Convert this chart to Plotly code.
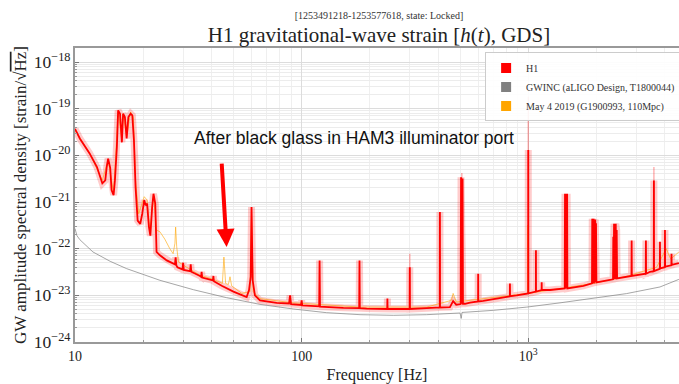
import plotly.graph_objects as go

# ---------------- data ----------------
h1_freq = [10, 10.5, 11.6, 12.5, 13.2, 13.6, 13.8, 14.0, 14.3, 14.5, 14.8, 15.0, 15.3, 15.5,
           15.8, 16.1, 16.3, 16.6, 16.9, 17.2, 17.6, 17.9, 18.2, 18.5, 18.9, 19.4, 19.8, 20.2,
           20.5, 20.8, 21.2, 21.5, 21.9, 22.2, 22.6, 22.9, 23.7, 25.4, 27.6, 27.8, 28.0, 28.3,
           29.8, 30.0, 30.2, 32.2, 32.4, 32.6, 35.6, 36.0, 36.2, 36.4, 40.6, 40.8, 41.0, 44.4,
           50.0, 54.4, 57.2, 58.6, 59.6, 60.1, 60.8, 62.2,
           65.5, 77.6, 88.0, 88.9, 89.8, 99.4, 100, 100.6, 119.5, 120, 120.5, 152.8, 179.4, 180,
           180.6, 193.6, 238.5, 239, 239.5, 299.5, 300, 300.5, 356, 407, 407.5, 408, 451, 466,
           481, 503, 505, 507, 509, 511, 513, 515, 526, 553, 600.5, 601, 601.5, 633, 829, 830,
           831, 889, 999, 1000, 1001, 1080, 1081, 1082, 1145, 1146, 1147, 1247, 1380,
           1448, 1452, 1456, 1460, 1464, 1468, 1472, 1476, 1480, 1484, 1488, 1750,
           1910, 1915, 1920, 1928, 1935, 1942, 1950, 1958, 1966, 1974, 1982, 1990, 1998,
           2365, 2372, 2380, 2390, 2400, 2410, 2420, 2432, 2444, 2455, 2465,
           2853, 2858, 2863, 3298, 3304, 3310, 3444, 3578, 3583, 3588, 3700, 3806, 3811, 3816,
           4003, 4009, 4015, 4278, 4285, 4292, 4620]
h1_asd = [3.7e-20, 2.3e-20, 1.1e-20, 5.6e-21, 2.5e-21, 2.9e-21, 5.6e-21, 8.5e-21, 5.4e-21, 1.8e-21,
          1.4e-21, 2.9e-21, 1.5e-20, 9.2e-20, 7.8e-20, 1.9e-20, 7.8e-20, 6.6e-20, 2.3e-20, 6.6e-20,
          7.8e-20, 7.2e-20, 2.1e-20, 2.1e-21, 4.0e-22, 3.4e-22, 5.6e-22, 1.1e-21, 8.5e-22, 9.2e-22,
          2.9e-22, 1.9e-22, 7.8e-22, 1.5e-21, 9.2e-22, 8.5e-23, 7.2e-23, 5.6e-23, 4.6e-23, 6.5e-23,
          4.4e-23, 4.0e-23, 3.6e-23, 5.0e-23, 3.5e-23, 3.3e-23, 4.6e-23, 3.2e-23, 2.6e-23, 2.5e-23,
          3.2e-23, 2.4e-23, 2.1e-23, 2.6e-23, 2.0e-23, 1.6e-23,
          1.2e-23, 1.0e-23, 9.2e-24, 1.3e-23, 2.5e-23, 7.8e-22, 2.1e-23, 1.0e-23,
          7.8e-24, 6.9e-24, 6.7e-24, 1.0e-23, 6.5e-24, 6.2e-24, 7.8e-24, 6.1e-24, 5.8e-24, 5.6e-23,
          5.7e-24, 5.4e-24, 5.3e-24, 5.6e-23, 5.3e-24, 5.2e-24, 5.1e-24, 8.5e-24, 5.1e-24, 5.1e-24,
          4.0e-23, 5.1e-24, 5.3e-24, 5.5e-24, 6.1e-22, 5.5e-24, 5.6e-24, 7.5e-24, 6.3e-24, 6.5e-24,
          3.4e-21, 6.6e-24, 2.9e-21, 6.6e-24, 3.2e-21, 6.6e-24, 6.6e-24, 7.0e-24, 7.4e-24, 2.9e-23,
          7.4e-24, 7.6e-24, 9.5e-24, 1.8e-23, 9.6e-24, 1.0e-23, 1.1e-23, 1.3e-20, 1.1e-23, 1.2e-23,
          9.2e-23, 1.2e-23, 1.3e-23, 1.9e-23, 1.3e-23, 1.3e-23, 1.4e-23,
          1.4e-23, 1.5e-21, 1.4e-23, 1.4e-21, 1.4e-23, 1.5e-21, 1.4e-23, 1.3e-21, 1.4e-23, 1.5e-21,
          1.4e-23, 1.6e-23,
          1.8e-23, 4.4e-22, 1.8e-23, 4.0e-22, 1.8e-23, 4.4e-22, 1.8e-23, 3.8e-22, 1.9e-23, 4.2e-22,
          1.9e-23, 3.5e-22, 1.9e-23,
          2.2e-23, 1.8e-22, 2.2e-23, 3.4e-22, 2.2e-23, 2.9e-22, 2.2e-23, 3.4e-22, 2.2e-23, 2.5e-22,
          2.3e-23,
          2.6e-23, 1.5e-22, 2.6e-23, 2.9e-23, 1.5e-22, 2.9e-23, 3.2e-23, 3.3e-23, 2.9e-21, 3.3e-23,
          3.5e-23, 3.7e-23, 1.4e-22, 3.8e-23, 4.0e-23, 2.5e-22, 4.1e-23, 4.4e-23, 7.8e-23, 4.5e-23,
          4.9e-23]

# extra reach of the H1 percentile band above the median at a few lines
h1_band_freq = [300, 300, None, 1000, 1000, None, 3583, 3583, None, 509, 509]
h1_band_asd = [5.1e-24, 7.8e-23, None, 1.1e-23, 1.8e-19, None, 3.4e-23, 5.6e-21, None, 6.6e-24, 4.2e-21]

gwinc_freq = [10, 10.2, 10.5, 11.3, 12.0, 14.3, 16.9, 23.7, 33.3, 46.7, 65.5, 91.8, 128.8, 181,
              254, 356, 500, 506, 508, 510, 702, 985, 1380, 1930, 2715, 3810, 4620]
gwinc_asd = [2.7e-22, 1.9e-22, 1.56e-22, 1.09e-22, 8.5e-23, 5.35e-23, 3.73e-23, 2.1e-23, 1.32e-23,
             8.9e-24, 6.4e-24, 5.1e-24, 4.25e-24, 3.85e-24, 3.73e-24, 3.85e-24, 4.18e-24, 3.2e-24,
             4.2e-24, 4.3e-24, 4.77e-24, 5.6e-24, 6.9e-24, 8.5e-24, 1.09e-23, 1.51e-23, 2.2e-23]

may_freq = [10, 11.6, 13.2, 14.0, 14.8, 15.5, 16.1, 16.3, 16.9, 17.6, 18.1, 18.5, 19.1, 20.2, 20.8,
            21.4, 22.2, 22.9, 23.7, 24.9, 26.2, 27.1, 27.6, 27.8, 28.1, 28.6, 31.1, 35.6, 40.8,
            44.7, 45.4, 46.2, 47.5, 48.3, 49.1, 54.4, 59.2, 60.1, 61.1, 65.5, 91.6, 181, 356, 458,
            466, 481, 992, 995, 1000, 1933, 2715, 3683, 4060, 4250, 4620]
may_asd = [3.4e-20, 1.1e-20, 2.9e-21, 7.8e-21, 1.6e-21, 8.5e-20, 2.1e-20, 7.8e-20, 2.5e-20, 8.5e-20,
           6.6e-20, 2.9e-21, 5.6e-22, 1.3e-21, 1.1e-21, 2.3e-22, 1.4e-21, 2.5e-22, 2.3e-22, 1.6e-22,
           1.0e-22, 7.8e-23, 1.3e-22, 2.9e-22, 1.1e-22, 5.2e-23, 4.0e-23, 2.7e-23, 2.2e-23, 1.8e-23,
           6.6e-23, 1.8e-23, 1.7e-23, 2.5e-23, 1.6e-23, 1.1e-23, 1.2e-23, 5.6e-22, 1.2e-23, 8.5e-24,
           6.9e-24, 5.6e-24, 5.6e-24, 7.8e-24, 1.1e-23, 7.2e-24, 1.1e-23, 3.2e-22, 1.1e-23, 1.8e-23,
           2.55e-23, 4.0e-23, 1.0e-22, 6.0e-23, 8.5e-23]

x_tickvals = [10, 100, 1000]
x_ticktext = ["10", "100", "10<sup>3</sup>"]
series_names = ["H1", "GWINC (aLIGO Design, T1800044)", "May 4 2019 (G1900993, 110Mpc)"]
series_colors = ["#ff0000", "#808080", "#ffa500"]

main_title = "H1 gravitational-wave strain [<i>h</i>(<i>t</i>), GDS]"
subtitle_text = "[1253491218-1253577618, state: Locked]"
note_text = "After black glass in HAM3 illuminator port"

SERIF = "Liberation Serif, Times New Roman, serif"

title_text = ("<span style='font-size:10px;fill:#333'>" + subtitle_text + "</span><br>"
              "<span style='font-size:21px'>" + main_title + "</span>")

fig = go.Figure()

fig.add_trace(go.Scatter(x=gwinc_freq, y=gwinc_asd, mode="lines",
                         line=dict(color="rgba(128,128,128,0.7)", width=1), showlegend=False,
                         hoverinfo="skip"))
# H1 band (drawn as a wide translucent stroke under the median)
fig.add_trace(go.Scatter(x=h1_freq, y=h1_asd, mode="lines",
                         line=dict(color="rgba(255,0,0,0.2)", width=7), showlegend=False,
                         hoverinfo="skip"))
fig.add_trace(go.Scatter(x=h1_band_freq, y=h1_band_asd, mode="lines",
                         line=dict(color="rgba(255,0,0,0.3)", width=1.5), showlegend=False,
                         hoverinfo="skip", connectgaps=False))
fig.add_trace(go.Scatter(x=may_freq, y=may_asd, mode="lines",
                         line=dict(color="rgba(255,165,0,0.6)", width=1), showlegend=False,
                         hoverinfo="skip"))
fig.add_trace(go.Scatter(x=h1_freq, y=h1_asd, mode="lines",
                         line=dict(color="#ff0000", width=1.8), showlegend=False))

# legend entries with square swatches
for name, col in zip(series_names, series_colors):
    fig.add_trace(go.Scatter(x=[None], y=[None], mode="markers", name=name,
                             marker=dict(symbol="square", size=10, color=col)))

fig.update_layout(
    width=679, height=384,
    margin=dict(l=75, r=0, t=48, b=42, autoexpand=False),
    paper_bgcolor="white", plot_bgcolor="white",
    font=dict(family=SERIF, size=14, color="#222"),
    title=dict(text=title_text, x=379 / 679, xanchor="center", y=1 - 19 / 384, yanchor="top",
               font=dict(family=SERIF, size=18, color="#222")),
    legend=dict(x=0.679, y=0.985, xanchor="left", yanchor="top",
                bgcolor="rgba(255,255,255,0.9)", bordercolor="#cccccc", borderwidth=1,
                font=dict(family=SERIF, size=10, color="#333"), itemwidth=30,
                tracegroupgap=0),
    xaxis=dict(type="log", range=[1, 3.665], tickvals=x_tickvals, ticktext=x_ticktext,
               showline=True, linecolor="#999", linewidth=1.5, mirror=True,
               ticks="inside", ticklen=4, tickcolor="#777",
               showgrid=True, gridcolor="#dcdcdc", gridwidth=1,
               minor=dict(ticks="inside", ticklen=2, tickcolor="#999", showgrid=True,
                          gridcolor="#efefef", dtick="D1"),
               title=dict(text="Frequency [Hz]", font=dict(family=SERIF, size=16), standoff=6),
               zeroline=False),
    yaxis=dict(type="log", range=[-24, -17.70], dtick=1, exponentformat="power",
               showline=True, linecolor="#999", linewidth=1.5,
               ticks="inside", ticklen=4, tickcolor="#777",
               showgrid=True, gridcolor="#dcdcdc", gridwidth=1,
               minor=dict(ticks="inside", ticklen=2, tickcolor="#999", showgrid=True,
                          gridcolor="#ececec", dtick="D1"),
               title=dict(text="GW amplitude spectral density [strain/√<span style='text-decoration:overline'>Hz</span>]",
                          font=dict(family=SERIF, size=17), standoff=3),
               zeroline=False),
    annotations=[
        dict(text=note_text, xref="paper", yref="paper", x=(354 - 75) / 604,
             y=(342 - 138) / 294, showarrow=False,
             font=dict(family="Liberation Sans, Arial, sans-serif", size=17.5, color="#111"),
             xanchor="center", yanchor="middle"),
        dict(x=1.669, y=-21.965, xref="x", yref="y", text="", showarrow=True,
             ax=-5, ay=-85, axref="pixel", ayref="pixel", arrowcolor="#ff0000",
             arrowwidth=4, arrowhead=2, arrowsize=0.9, standoff=0),
    ],
)

fig.write_html("out.html")
